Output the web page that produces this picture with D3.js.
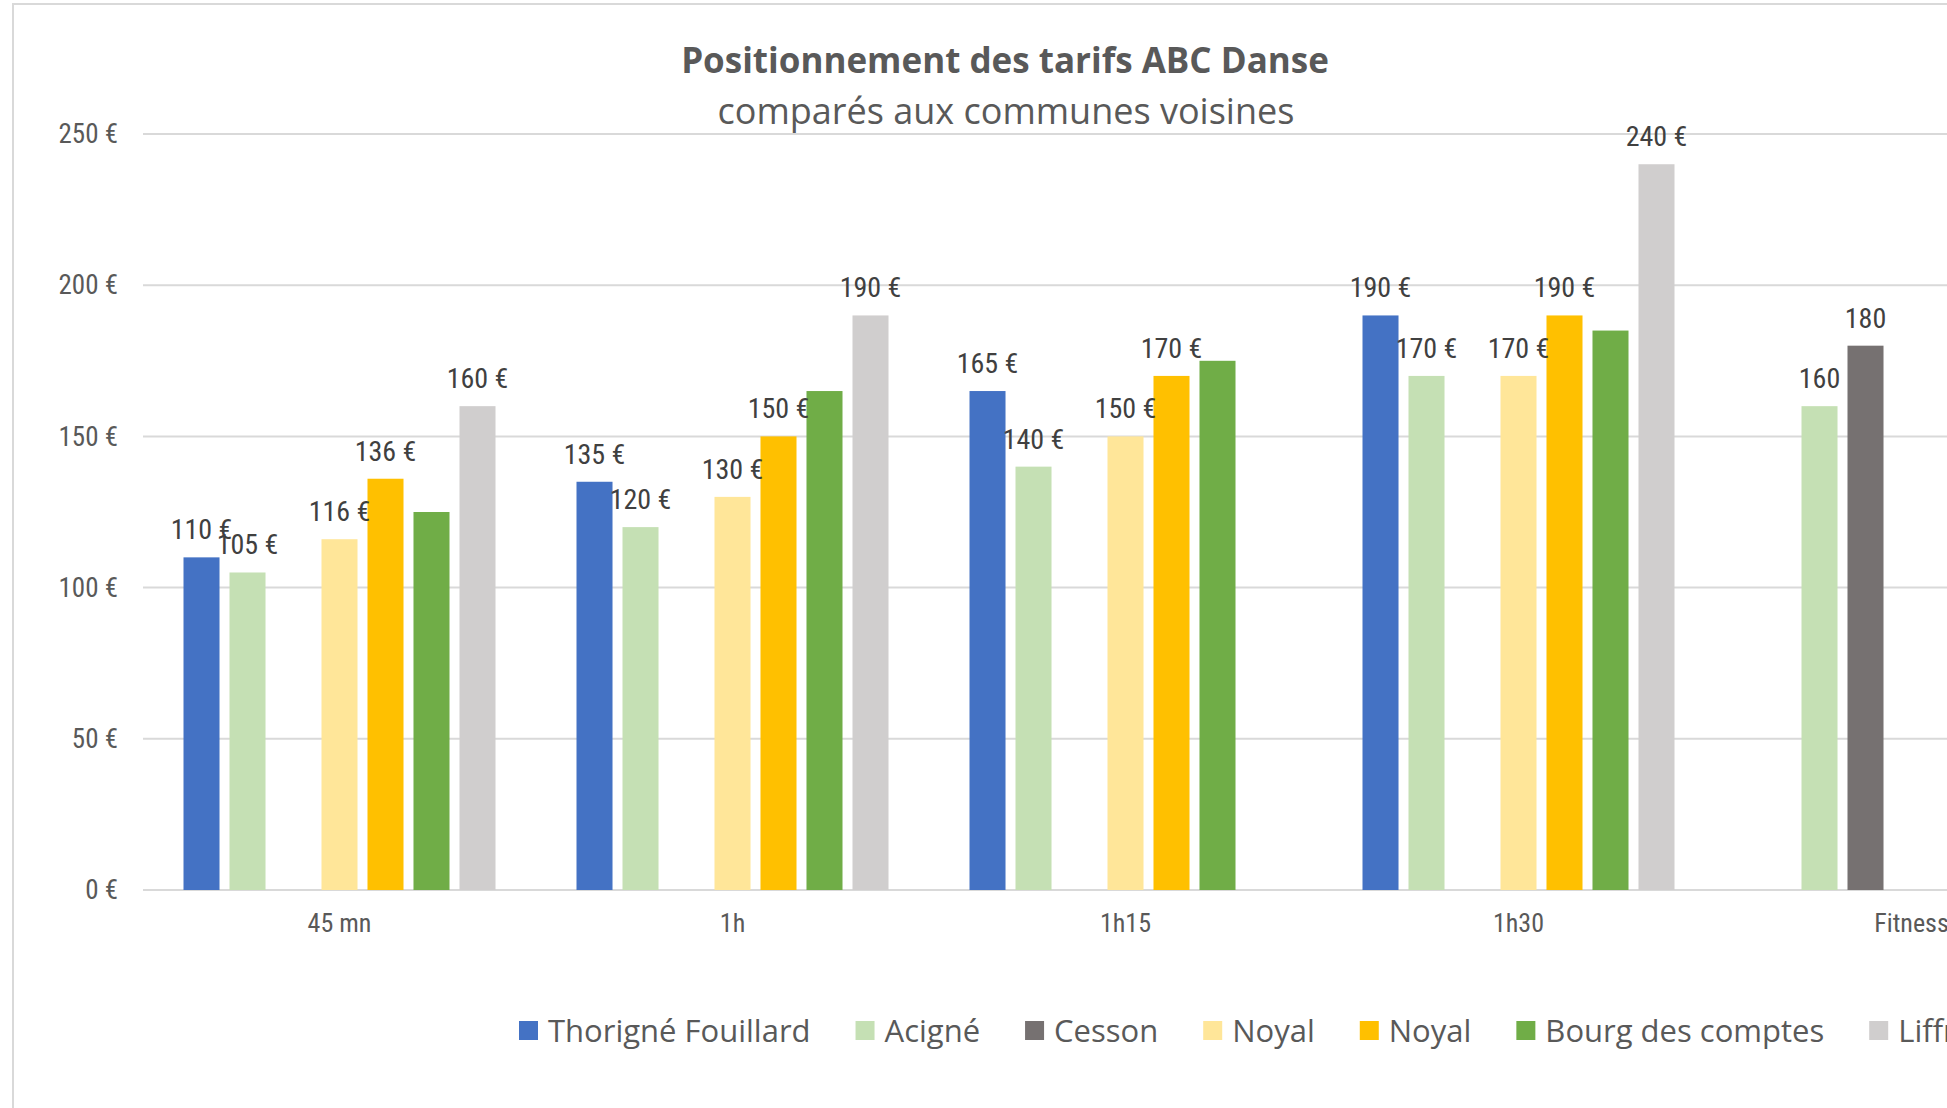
<!DOCTYPE html>
<html>
<head>
<meta charset="utf-8">
<script src="https://cdn.jsdelivr.net/npm/d3@7"></script>
<style>
  body { margin: 0; background: #fff; overflow: hidden; }
  svg { display: block; }
</style>
</head>
<body>
<script>
// ---- data ----
const categories = ["45 mn", "1h", "1h15", "1h30", "Fitness"];
const seriesNames = ["Thorigné Fouillard", "Acigné", "Cesson", "Noyal", "Noyal", "Bourg des comptes", "Liffré"];
const seriesColors = ["#4472C4", "#C5E0B4", "#767171", "#FFE699", "#FFC000", "#70AD47", "#D0CECE"];
const thorigne = [110, 135, 165, 190, null];
const acigne = [105, 120, 140, 170, 160];
const cesson = [null, null, null, null, 180];
const noyalClair = [116, 130, 150, 170, null];
const noyal = [136, 150, 170, 190, null];
const bourg = [125, 165, 175, 185, null];
const liffre = [160, 190, null, 240, null];
const seriesValues = [thorigne, acigne, cesson, noyalClair, noyal, bourg, liffre];
const showLabels = [true, true, true, true, true, false, true];
const labelSuffix = [" €", " €", " €", " €", ""];
const yTicks = [0, 50, 100, 150, 200, 250];

const width = 1947, height = 1108;
const narrow = "'Liberation Sans Narrow', 'Roboto Condensed', Roboto, sans-serif";
const wide = "'Open Sans', 'Noto Sans', sans-serif";
const textCol = "#595959";

const svg = d3.select("body").append("svg")
  .attr("width", width).attr("height", height);

// chart frame (larger than the visible area, like the cropped original)
svg.append("rect").attr("x", 13).attr("y", 4)
  .attr("width", 3000).attr("height", 3000)
  .attr("fill", "#fff").attr("stroke", "#d9d9d9").attr("stroke-width", 2);

//----------------------------SCALES-----------------------------//
const plotLeft = 143, bandW = 393;
const x0 = d3.scaleBand().domain(categories)
  .range([plotLeft, plotLeft + bandW * categories.length]);
const x1 = d3.scaleBand().domain(d3.range(seriesNames.length))
  .range([40.5, bandW - 40.5]).paddingInner(0.217);
const y = d3.scaleLinear().domain([0, 250]).range([890, 134]);

//-----------------------------GRID + AXES------------------------------//
const grid = svg.append("g");
grid.selectAll("line").data(yTicks).enter().append("line")
  .attr("x1", plotLeft).attr("x2", plotLeft + bandW * categories.length)
  .attr("y1", d => y(d)).attr("y2", d => y(d))
  .attr("stroke", "#d9d9d9").attr("stroke-width", 2);

const yaxis = d3.axisLeft(y).tickValues(yTicks).tickSize(0).tickPadding(25)
  .tickFormat(d => d + " €");
svg.append("g").attr("transform", "translate(" + plotLeft + ",0)").call(yaxis)
  .call(g => g.select(".domain").remove())
  .selectAll("text").attr("font-family", narrow).attr("font-size", 27).attr("fill", textCol);

const xaxis = d3.axisBottom(x0).tickSize(0).tickPadding(24);
svg.append("g").attr("transform", "translate(0," + y(0) + ")").call(xaxis)
  .call(g => g.select(".domain").remove())
  .selectAll("text").attr("font-family", narrow).attr("font-size", 26).attr("fill", textCol);

//----------------------------BARS------------------------------//
const cells = [];
seriesValues.forEach((vals, s) => {
  vals.forEach((v, c) => {
    if (v != null) cells.push({ s: s, c: c, v: v });
  });
});

const bars = svg.append("g");
bars.selectAll("rect").data(cells).enter().append("rect")
  .attr("x", d => x0(categories[d.c]) + x1(d.s))
  .attr("width", x1.bandwidth())
  .attr("y", d => y(d.v))
  .attr("height", d => y(0) - y(d.v))
  .attr("fill", d => seriesColors[d.s]);

svg.append("g").selectAll("text").data(cells.filter(d => showLabels[d.s])).enter()
  .append("text")
  .attr("x", d => x0(categories[d.c]) + x1(d.s) + x1.bandwidth() / 2)
  .attr("y", d => y(d.v) - 18)
  .attr("text-anchor", "middle")
  .attr("font-family", narrow).attr("font-size", 28).attr("fill", "#404040")
  .text(d => d.v + labelSuffix[d.c]);

//-----------------------------TITLE------------------------------//
svg.append("text").attr("x", 1005).attr("y", 73).attr("text-anchor", "middle")
  .attr("font-family", wide).attr("font-weight", "bold").attr("font-size", 35)
  .attr("fill", textCol).text("Positionnement des tarifs ABC Danse");
svg.append("text").attr("x", 1006).attr("y", 124).attr("text-anchor", "middle")
  .attr("font-family", wide).attr("font-size", 36)
  .attr("fill", textCol).text("comparés aux communes voisines");

//-----------------------------LEGEND------------------------------//
const legend = svg.append("g");
let lx = 519;
seriesNames.forEach((name, i) => {
  const item = legend.append("g").attr("transform", "translate(" + lx + ",0)");
  item.append("rect").attr("x", 0).attr("y", 1021).attr("width", 19).attr("height", 19)
    .attr("fill", seriesColors[i]);
  const t = item.append("text").attr("x", 29).attr("y", 1042)
    .attr("font-family", wide).attr("font-size", 31).attr("fill", textCol).text(name);
  lx += 29 + t.node().getComputedTextLength() + 45;
});
</script>
</body>
</html>
